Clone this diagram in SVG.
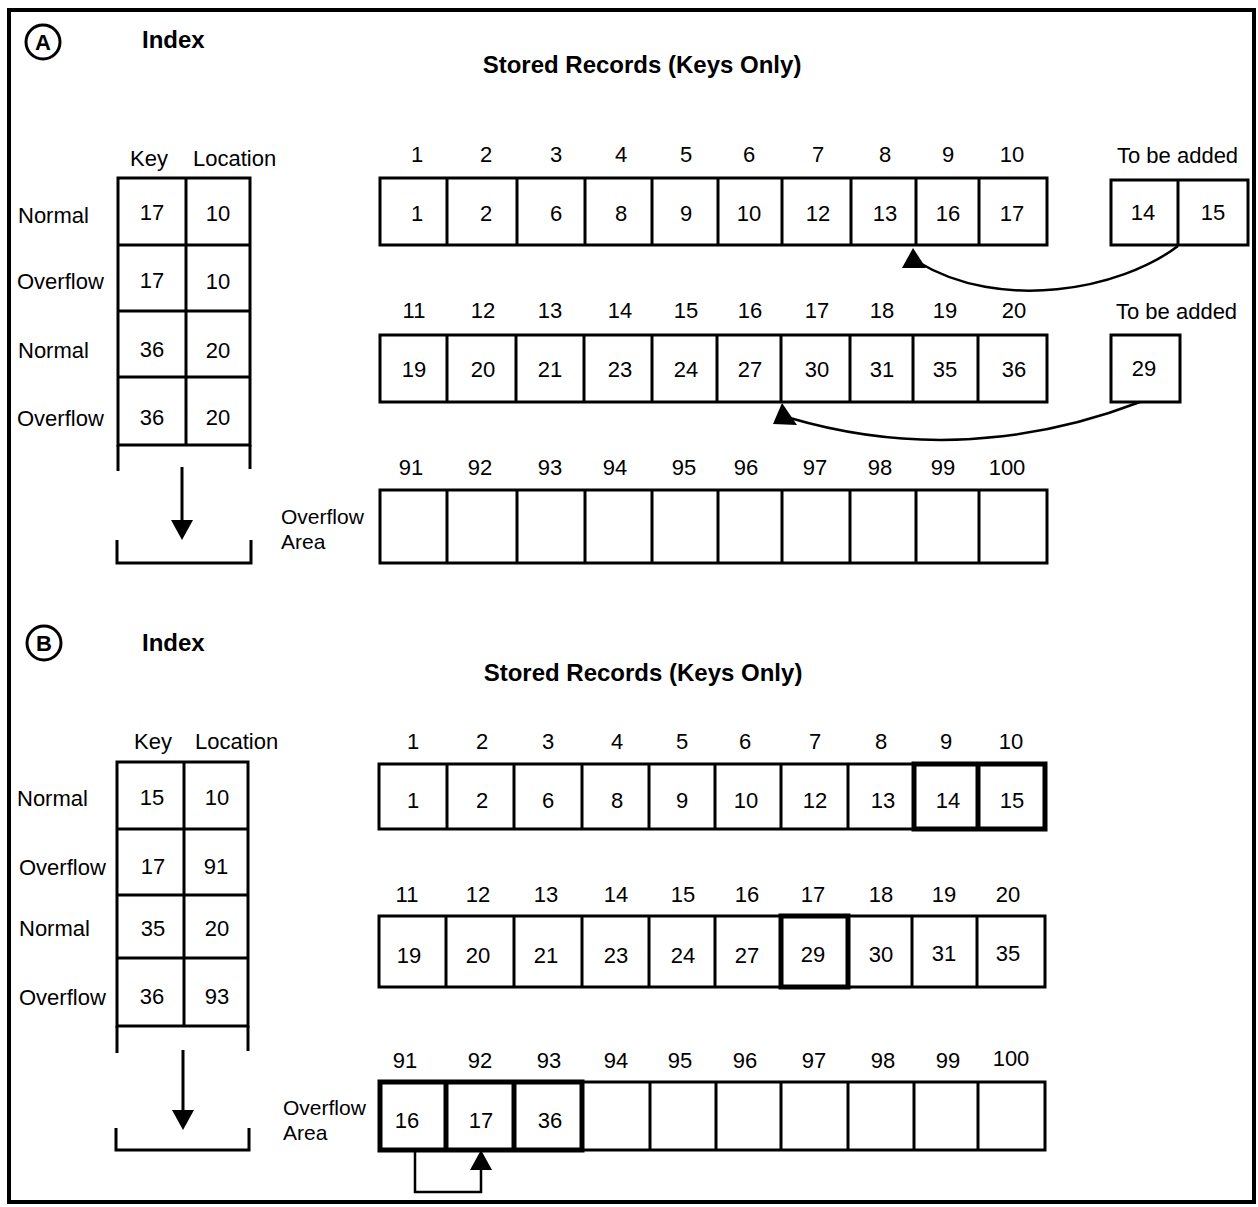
<svg xmlns="http://www.w3.org/2000/svg" width="1258" height="1207" viewBox="0 0 1258 1207">
<style>
.frame{fill:none;stroke:#000;stroke-width:4}
.box{fill:none;stroke:#000;stroke-width:3}
.thk{fill:none;stroke:#000;stroke-width:5}
.ln{fill:none;stroke:#000;stroke-width:3}
.cn{fill:none;stroke:#000;stroke-width:2.5}
.ah{fill:#000;stroke:none}
text{font-family:"Liberation Sans",Arial,sans-serif;font-size:22px;fill:#000}
.m{text-anchor:middle}
.b{font-weight:bold;font-size:24px}
.oa{font-size:21px}
</style>
<rect x="0" y="0" width="1258" height="1207" fill="#fff"/>
<rect class="frame" x="9" y="10" width="1245" height="1192"/>

<!-- Section A -->
<g id="labelA">
<circle cx="43" cy="42" r="17" fill="none" stroke="#000" stroke-width="3"/>
<text class="m b" x="43" y="50" style="font-size:22px">A</text>
<text class="b" x="142" y="48">Index</text>
<text class="m b" x="642" y="73">Stored Records (Keys Only)</text>
</g>

<g id="indexA">
<text x="130" y="166">Key</text>
<text x="193" y="166">Location</text>
<rect class="box" x="118" y="178" width="132" height="267"/>
<line class="ln" x1="186" y1="178" x2="186" y2="445"/>
<line class="ln" x1="118" y1="245" x2="250" y2="245"/>
<line class="ln" x1="118" y1="311" x2="250" y2="311"/>
<line class="ln" x1="118" y1="377" x2="250" y2="377"/>
<line class="ln" x1="118" y1="445" x2="118" y2="471"/>
<line class="ln" x1="250" y1="445" x2="250" y2="469"/>
<polyline class="ln" points="117,540 117,563 251,563 251,540"/>
<line class="ln" x1="182" y1="467" x2="182" y2="522"/>
<polygon class="ah" points="182,540 171,520 193,520"/>
<text x="18" y="223">Normal</text>
<text x="17" y="289">Overflow</text>
<text x="18" y="358">Normal</text>
<text x="17" y="426">Overflow</text>
<text class="m" x="152" y="220">17</text><text class="m" x="218" y="221">10</text>
<text class="m" x="152" y="288">17</text><text class="m" x="218" y="289">10</text>
<text class="m" x="152" y="357">36</text><text class="m" x="218" y="358">20</text>
<text class="m" x="152" y="425">36</text><text class="m" x="218" y="425">20</text>
</g>

<g id="recordsA1">
<rect class="box" x="380" y="178" width="667" height="67"/>
<path class="ln" d="M447,178V245M517,178V245M585,178V245M652,178V245M718,178V245M782,178V245M851,178V245M916,178V245M979,178V245"/>
<text class="m" x="417" y="162">1</text><text class="m" x="486" y="162">2</text><text class="m" x="556" y="162">3</text><text class="m" x="621" y="162">4</text><text class="m" x="686" y="162">5</text><text class="m" x="749" y="162">6</text><text class="m" x="818" y="162">7</text><text class="m" x="885" y="162">8</text><text class="m" x="948" y="162">9</text><text class="m" x="1012" y="162">10</text>
<text class="m" x="417" y="221">1</text><text class="m" x="486" y="221">2</text><text class="m" x="556" y="221">6</text><text class="m" x="621" y="221">8</text><text class="m" x="686" y="221">9</text><text class="m" x="749" y="221">10</text><text class="m" x="818" y="221">12</text><text class="m" x="885" y="221">13</text><text class="m" x="948" y="221">16</text><text class="m" x="1012" y="221">17</text>
</g>

<g id="addA1">
<text x="1117" y="163">To be added</text>
<rect class="box" x="1111" y="180" width="137" height="65"/>
<line class="ln" x1="1178" y1="180" x2="1178" y2="245"/>
<text class="m" x="1143" y="220">14</text><text class="m" x="1213" y="220">15</text>
</g>

<g id="recordsA2">
<rect class="box" x="380" y="335" width="667" height="67"/>
<path class="ln" d="M447,335V402M516,335V402M584,335V402M652,335V402M717,335V402M781,335V402M850,335V402M913,335V402M978,335V402"/>
<text class="m" x="414" y="318">11</text><text class="m" x="483" y="318">12</text><text class="m" x="550" y="318">13</text><text class="m" x="620" y="318">14</text><text class="m" x="686" y="318">15</text><text class="m" x="750" y="318">16</text><text class="m" x="817" y="318">17</text><text class="m" x="882" y="318">18</text><text class="m" x="945" y="318">19</text><text class="m" x="1014" y="318">20</text>
<text class="m" x="414" y="377">19</text><text class="m" x="483" y="377">20</text><text class="m" x="550" y="377">21</text><text class="m" x="620" y="377">23</text><text class="m" x="686" y="377">24</text><text class="m" x="750" y="377">27</text><text class="m" x="817" y="377">30</text><text class="m" x="882" y="377">31</text><text class="m" x="945" y="377">35</text><text class="m" x="1014" y="377">36</text>
</g>

<g id="addA2">
<text x="1116" y="319">To be added</text>
<rect class="box" x="1111" y="335" width="69" height="67"/>
<text class="m" x="1144" y="376">29</text>
</g>

<g id="overflowA">
<text class="oa" x="281" y="524">Overflow</text>
<text class="oa" x="281" y="549">Area</text>
<rect class="box" x="380" y="490" width="667" height="73"/>
<path class="ln" d="M447,490V563M517,490V563M585,490V563M652,490V563M718,490V563M782,490V563M850,490V563M916,490V563M979,490V563"/>
<text class="m" x="411" y="475">91</text><text class="m" x="480" y="475">92</text><text class="m" x="550" y="475">93</text><text class="m" x="615" y="475">94</text><text class="m" x="684" y="475">95</text><text class="m" x="746" y="475">96</text><text class="m" x="815" y="475">97</text><text class="m" x="880" y="475">98</text><text class="m" x="943" y="475">99</text><text class="m" x="1007" y="475">100</text>
</g>

<!-- Section B -->
<g id="labelB">
<circle cx="44" cy="643" r="17" fill="none" stroke="#000" stroke-width="3"/>
<text class="m b" x="44" y="651" style="font-size:22px">B</text>
<text class="b" x="142" y="651">Index</text>
<text class="m b" x="643" y="681">Stored Records (Keys Only)</text>
</g>

<g id="indexB">
<text x="134" y="749">Key</text>
<text x="195" y="749">Location</text>
<rect class="box" x="117" y="762" width="131" height="264"/>
<line class="ln" x1="184" y1="762" x2="184" y2="1026"/>
<line class="ln" x1="117" y1="829" x2="248" y2="829"/>
<line class="ln" x1="117" y1="895" x2="248" y2="895"/>
<line class="ln" x1="117" y1="958" x2="248" y2="958"/>
<line class="ln" x1="117" y1="1026" x2="117" y2="1053"/>
<line class="ln" x1="248" y1="1026" x2="248" y2="1051"/>
<polyline class="ln" points="116,1128 116,1150 249,1150 249,1128"/>
<line class="ln" x1="183" y1="1050" x2="183" y2="1112"/>
<polygon class="ah" points="183,1130 172,1110 194,1110"/>
<text x="17" y="806">Normal</text>
<text x="19" y="875">Overflow</text>
<text x="19" y="936">Normal</text>
<text x="19" y="1005">Overflow</text>
<text class="m" x="152" y="805">15</text><text class="m" x="217" y="805">10</text>
<text class="m" x="153" y="874">17</text><text class="m" x="216" y="874">91</text>
<text class="m" x="153" y="936">35</text><text class="m" x="217" y="936">20</text>
<text class="m" x="152" y="1004">36</text><text class="m" x="217" y="1004">93</text>
</g>

<g id="recordsB1">
<rect class="box" x="379" y="764" width="666" height="65"/>
<path class="ln" d="M447,764V829M514,764V829M582,764V829M649,764V829M715,764V829M781,764V829M848,764V829"/>
<rect class="thk" x="914" y="764" width="131" height="65"/>
<line class="thk" x1="978" y1="764" x2="978" y2="829"/>
<text class="m" x="413" y="749">1</text><text class="m" x="482" y="749">2</text><text class="m" x="548" y="749">3</text><text class="m" x="617" y="749">4</text><text class="m" x="682" y="749">5</text><text class="m" x="745" y="749">6</text><text class="m" x="815" y="749">7</text><text class="m" x="881" y="749">8</text><text class="m" x="946" y="749">9</text><text class="m" x="1011" y="749">10</text>
<text class="m" x="413" y="808">1</text><text class="m" x="482" y="808">2</text><text class="m" x="548" y="808">6</text><text class="m" x="617" y="808">8</text><text class="m" x="682" y="808">9</text><text class="m" x="746" y="808">10</text><text class="m" x="815" y="808">12</text><text class="m" x="883" y="808">13</text><text class="m" x="948" y="808">14</text><text class="m" x="1012" y="808">15</text>
</g>

<g id="recordsB2">
<rect class="box" x="379" y="916" width="666" height="71"/>
<path class="ln" d="M446,916V987M514,916V987M582,916V987M649,916V987M715,916V987M912,916V987M977,916V987"/>
<rect class="thk" x="781" y="916" width="67" height="71"/>
<text class="m" x="407" y="902">11</text><text class="m" x="478" y="902">12</text><text class="m" x="546" y="902">13</text><text class="m" x="616" y="902">14</text><text class="m" x="683" y="902">15</text><text class="m" x="747" y="902">16</text><text class="m" x="813" y="902">17</text><text class="m" x="881" y="902">18</text><text class="m" x="944" y="902">19</text><text class="m" x="1008" y="902">20</text>
<text class="m" x="409" y="963">19</text><text class="m" x="478" y="963">20</text><text class="m" x="546" y="963">21</text><text class="m" x="616" y="963">23</text><text class="m" x="683" y="963">24</text><text class="m" x="747" y="963">27</text><text class="m" x="813" y="962">29</text><text class="m" x="881" y="962">30</text><text class="m" x="944" y="961">31</text><text class="m" x="1008" y="961">35</text>
</g>

<g id="overflowB">
<text class="oa" x="283" y="1115">Overflow</text>
<text class="oa" x="283" y="1140">Area</text>
<rect class="box" x="380" y="1082" width="665" height="68"/>
<path class="ln" d="M650,1082V1150M716,1082V1150M781,1082V1150M848,1082V1150M914,1082V1150M978,1082V1150"/>
<rect class="thk" x="380" y="1082" width="202" height="68"/>
<path class="thk" d="M446,1082V1150M514,1082V1150"/>
<text class="m" x="405" y="1068">91</text><text class="m" x="480" y="1068">92</text><text class="m" x="549" y="1068">93</text><text class="m" x="616" y="1068">94</text><text class="m" x="680" y="1068">95</text><text class="m" x="745" y="1068">96</text><text class="m" x="814" y="1068">97</text><text class="m" x="883" y="1068">98</text><text class="m" x="948" y="1068">99</text><text class="m" x="1011" y="1066">100</text>
<text class="m" x="407" y="1128">16</text><text class="m" x="481" y="1128">17</text><text class="m" x="550" y="1128">36</text>
</g>

<g id="connectors">
<path class="cn" d="M1178,246 C1120,290 1000,312 918,262"/>
<polygon class="ah" points="913,248 902,268 926,268"/>
<path class="cn" d="M1140,402 C1080,425 950,465 790,418"/>
<polygon class="ah" points="782,403 773,424 797,425"/>
<polyline class="cn" points="415,1150 415,1192 481,1192 481,1170"/>
<polygon class="ah" points="481,1150 470,1170 492,1170"/>
</g>
</svg>
